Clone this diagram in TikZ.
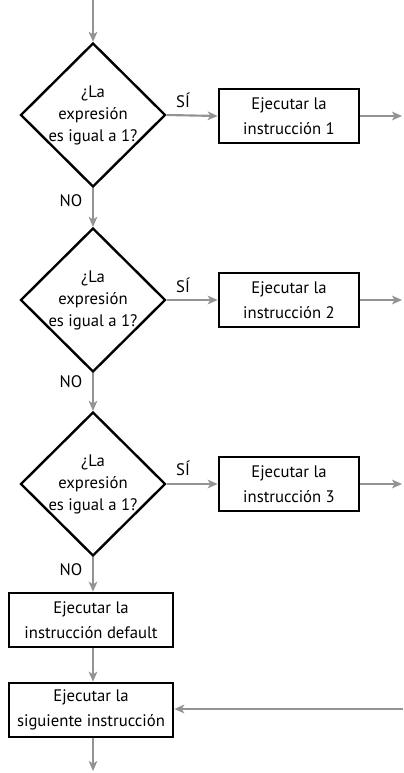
\documentclass[tikz,border=0pt]{standalone}
\usepackage{fontspec}
\setmainfont{PT Sans}
\usetikzlibrary{shapes.geometric,arrows.meta}
\definecolor{arrowgray}{HTML}{939393}
\begin{document}
\begin{tikzpicture}[x=0.75pt,y=-0.75pt,
 flow/.style={draw=arrowgray, line width=1.6pt, -{Stealth[length=7.5pt,width=6.5pt,inset=2pt]}},
 decision/.style={diamond, draw=black, line width=1.8pt, inner sep=-4pt, minimum width=108.75pt, minimum height=108pt, align=center, font=\fontsize{12.5}{16.5}\selectfont},
 procbox/.style={rectangle, draw=black, line width=2pt, minimum width=105pt, minimum height=40.5pt, inner sep=0pt, align=center, font=\fontsize{12.5}{18.5}\selectfont},
 widebox/.style={procbox, minimum width=123pt},
 lbl/.style={inner sep=0pt, font=\fontsize{12.5}{14}\selectfont}
]
\useasboundingbox (0,0) rectangle (403,773);
\coordinate (start) at (93,0);
\node[decision] (d1) at (93,115) {¿La\\expresión\\es igual a 1?};
\node[decision] (d2) at (93,300) {¿La\\expresión\\es igual a 1?};
\node[decision] (d3) at (93,484) {¿La\\expresión\\es igual a 1?};
\node[procbox] (b1) at (289,116) {Ejecutar la\\instrucción 1};
\node[procbox] (b2) at (289,300) {Ejecutar la\\instrucción 2};
\node[procbox] (b3) at (289,484) {Ejecutar la\\instrucción 3};
\node[widebox] (def) at (91,620) {Ejecutar la\\instrucción default};
\node[widebox] (next) at (91,710) {Ejecutar la\\siguiente instrucción};
\coordinate (o1) at (402,116);
\coordinate (o2) at (402,300);
\coordinate (o3) at (402,484);
\coordinate (inR) at (403,709);
\coordinate (endc) at (93,771);
\node[lbl] (s1) at (183,100) {SÍ};
\node[lbl] (s2) at (183,285) {SÍ};
\node[lbl] (s3) at (183,468) {SÍ};
\node[lbl] (n1) at (71,201) {NO};
\node[lbl] (n2) at (71,382) {NO};
\node[lbl] (n3) at (71,570) {NO};
\draw[flow] (start) -- (d1.north);
\draw[flow] (d1.east) -- (b1.west);
\draw[flow] (d2.east) -- (b2.west);
\draw[flow] (d3.east) -- (b3.west);
\draw[flow] (b1.east) -- (o1);
\draw[flow] (b2.east) -- (o2);
\draw[flow] (b3.east) -- (o3);
\draw[flow] (d1.south) -- (d2.north);
\draw[flow] (d2.south) -- (d3.north);
\draw[flow] (d3.south) -- (d3.south |- def.north);
\draw[flow] (d3.south |- def.south) -- (d3.south |- next.north);
\draw[flow] (inR) -- (inR -| next.east);
\draw[flow] (d3.south |- next.south) -- (endc);
\end{tikzpicture}
\end{document}
